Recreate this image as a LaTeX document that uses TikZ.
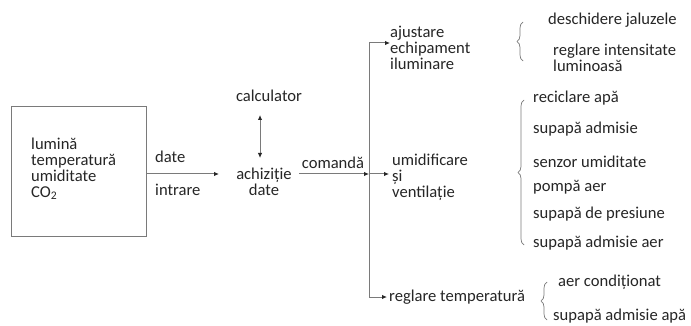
\documentclass[tikz,border=0pt]{standalone}
\usepackage{fontspec}
\setmainfont{Carlito}
\usetikzlibrary{arrows.meta,decorations.pathreplacing}
\definecolor{ink}{HTML}{262626}
\definecolor{wire}{HTML}{7A7A7A}
\tikzset{
  txt/.style={font=\fontsize{16.6}{15.8}\selectfont, text=ink, inner sep=0pt, align=left},
  lbl/.style={txt, anchor=west},
  wireline/.style={draw=wire, line width=1pt},
  arr/.style={wireline, -{Latex[length=5pt,width=4.5pt,color=ink]}},
  darr/.style={wireline, {Latex[length=5pt,width=4.5pt,color=ink]}-{Latex[length=5pt,width=4.5pt,color=ink]}},
  bracestyle/.style={draw=wire, line width=0.7pt, decorate, decoration={brace, amplitude=6pt}},
}
\begin{document}
\begin{tikzpicture}[x=1pt, y=-1pt]
\useasboundingbox[fill=white] (0,0) rectangle (691,326);

% input box with the measured quantities
\node[wireline, draw, minimum width=135pt, minimum height=129pt] (box) at (78.5,171.5) {};
\node[lbl] (inputs) at (31,169) {lumină\\temperatură\\umiditate\\CO\textsubscript{2}};

% data acquisition and the computer
\node[txt, anchor=center, align=center] (acq) at (264,182) {achiziție\\date};
\node[txt, anchor=center] (calc) at (269,96) {calculator};
\coordinate (acqin) at (219,174);
\coordinate (calcA) at (260,115);
\coordinate (calcB) at (260,158);
\draw[arr] (box.east |- acqin) -- (acqin);
\node[lbl] (date) at (155,157) {date};
\node[lbl] (intrare) at (155,190) {intrare};
\draw[darr] (calcA) -- (calcB);

% command bus
\coordinate (cmdA) at (299,174);
\coordinate (busM) at (369,174);
\coordinate (busT) at (369,43);
\coordinate (busB) at (369,297);
\node[txt, anchor=center] (cmd) at (333,163) {comandă};
\draw[arr] (cmdA) -- (busM);
\draw[wireline] (busT) -- (busB);

% controlled subsystems
\node[lbl] (light) at (390,48) {ajustare\\echipament\\iluminare};
\node[lbl] (hum) at (392,177) {umidificare\\și\\ventilație};
\node[lbl] (temp) at (389,297) {reglare temperatură};
\draw[arr] (busT) -- (light.west |- busT);
\draw[arr] (busM) -- ([xshift=-3pt]hum.west |- busM);
\draw[arr] (busB) -- ([xshift=-2pt]temp.west |- busB);

% lighting actuators
\node[lbl] (jal) at (548,20) {deschidere jaluzele};
\node[lbl] (int) at (553,58) {reglare intensitate\\luminoasă};
\coordinate (b1a) at (523,61);
\coordinate (b1b) at (523,22);
\draw[bracestyle] (b1a) -- (b1b);

% humidity and ventilation actuators
\node[lbl] (r1) at (533,98) {reciclare apă};
\node[lbl] (r2) at (533,129) {supapă admisie};
\node[lbl] (r3) at (533,162) {senzor umiditate};
\node[lbl] (r4) at (533,187) {pompă aer};
\node[lbl] (r5) at (533,214) {supapă de presiune};
\node[lbl] (r6) at (533,243) {supapă admisie aer};
\coordinate (b2a) at (524,245);
\coordinate (b2b) at (524,100);
\draw[bracestyle] (b2a) -- (b2b);

% temperature actuators
\node[lbl] (t1) at (558,282) {aer condiționat};
\node[lbl] (t2) at (553,316) {supapă admisie apă};
\coordinate (b3a) at (547,320);
\coordinate (b3b) at (547,282);
\draw[bracestyle] (b3a) -- (b3b);
\end{tikzpicture}
\end{document}
